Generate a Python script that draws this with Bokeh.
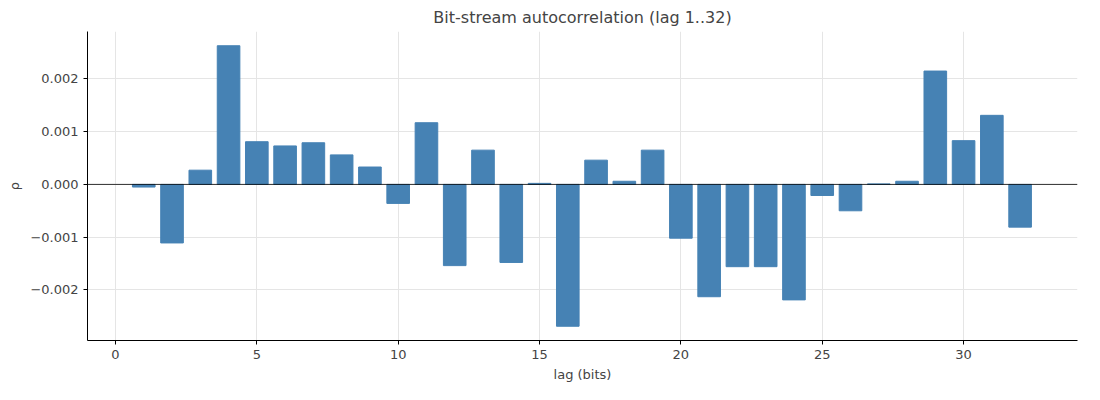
from bokeh.plotting import figure
from bokeh.models import Range1d, CustomJSTickFormatter, FixedTicker, Span
from bokeh.embed import file_html
from bokeh.resources import INLINE

lags = list(range(1, 33))
rho = [-0.00005, -0.00111, 0.00027, 0.00263, 0.00081, 0.00073, 0.00079, 0.00056,
       0.00033, -0.00036, 0.00117, -0.00154, 0.00065, -0.00148, 0.00002, -0.00269,
       0.00046, 0.00006, 0.00065, -0.00102, -0.00213, -0.00156, -0.00156, -0.00219,
       -0.00021, -0.00050, 0.00001, 0.00006, 0.00215, 0.00083, 0.00131, -0.00081]
xticks = [0, 5, 10, 15, 20, 25, 30]
yticks = [-0.002, -0.001, 0.0, 0.001, 0.002]

p = figure(width=1084, height=384, output_backend="svg", toolbar_location=None,
           title="Bit-stream autocorrelation (lag 1..32)",
           x_range=Range1d(-0.99, 34.03), y_range=Range1d(-0.00296, 0.0029),
           min_border_left=87, min_border_right=7, min_border_top=29, min_border_bottom=42)
p.vbar(x=lags, top=rho, bottom=0, width=0.8, color="#4682b4")
p.add_layout(Span(location=0, dimension="width", line_color="black", line_width=0.8))

p.title.align = "center"
p.title.text_font = "DejaVu Sans"
p.title.text_font_style = "normal"
p.title.text_font_size = "16px"
p.xaxis.axis_label = "lag (bits)"
p.yaxis.axis_label = "ρ"
for ax in (p.xaxis, p.yaxis):
    ax.axis_label_text_font = "DejaVu Sans"
    ax.axis_label_text_font_style = "normal"
    ax.axis_label_text_font_size = "13px"
    ax.major_label_text_font = "DejaVu Sans"
    ax.major_label_text_font_size = "13px"
    ax.minor_tick_line_color = None
    ax.major_tick_in = 0
    ax.major_tick_out = 4
p.xaxis.ticker = FixedTicker(ticks=xticks)
p.yaxis.ticker = FixedTicker(ticks=yticks)
p.yaxis.formatter = CustomJSTickFormatter(code="return tick.toFixed(3).replace('-', '\u2212');")
p.grid.grid_line_color = "#e5e5e5"
p.outline_line_color = None

open("out.html", "w").write(file_html(p, INLINE))
